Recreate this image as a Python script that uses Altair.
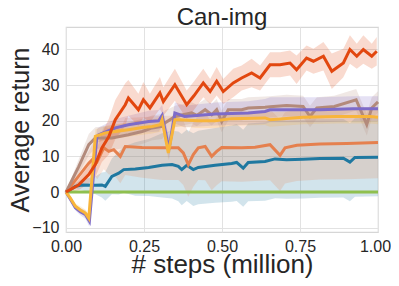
import altair as alt
import pandas as pd

# ---- data ----
title_text = "Can-img"
names = ["green", "blue", "orange", "brown", "purple", "yellow", "red"]
colors = ["#8fc04f", "#1f78a0", "#e5804e", "#b38a7b", "#7d6bc9", "#f8b53a", "#e2470f"]

green_x = [0, 0.25, 0.5, 0.75, 1.0]
green_y = [0, 0, 0, 0, 0]
green_hw = [0.3, 0.3, 0.3, 0.3, 0.3]

blue_x = [0, 0.03, 0.051, 0.094, 0.115, 0.126, 0.147, 0.169, 0.185, 0.222, 0.265, 0.308, 0.34, 0.36, 0.371,
          0.387, 0.408, 0.424, 0.478, 0.531, 0.547, 0.568, 0.584, 0.638, 0.67, 0.707, 0.76, 0.814, 0.889, 0.91,
          0.926, 1.0]
blue_y = [0, 1.6, 2.0, 1.9, 2.0, 1.6, 4.4, 5.3, 6.3, 6.5, 6.9, 7.5, 7.7, 7.2, 6.3, 7.5, 6.3, 6.9, 7.5, 8.0,
          8.3, 6.7, 8.3, 8.6, 9.3, 9.1, 9.2, 9.4, 9.5, 8.4, 9.7, 9.8]
blue_hw = [0, 0.8, 1.5, 2.5, 3.5, 4, 5, 6, 6.5, 7.5, 8, 9, 9.5, 9.8, 10, 10, 10.2, 10.3, 10.5, 10.7, 10.8,
           10.8, 10.9, 11, 11, 11, 11, 11, 11, 11, 11, 11]

orange_x = [0, 0.04, 0.073, 0.089, 0.1, 0.121, 0.137, 0.153, 0.174, 0.19, 0.244, 0.308, 0.36, 0.376, 0.392,
            0.408, 0.424, 0.446, 0.467, 0.483, 0.499, 0.563, 0.606, 0.654, 0.686, 0.702, 0.74, 0.814, 0.9, 1.0]
orange_y = [0, 4.4, 8.1, 9.5, 8.6, 12.4, 11.4, 11.9, 10.0, 12.8, 12.5, 12.4, 12.4, 11.0, 7.7, 10.5, 12.4,
            12.8, 10.0, 11.4, 12.5, 12.4, 12.6, 13.3, 10.3, 12.4, 13.1, 13.5, 13.6, 13.9]
orange_hw = [0, 2, 3.5, 4.5, 5, 6, 6.5, 7, 7.5, 8, 8.5, 9, 9, 9, 9, 9, 9, 9.5, 9.5, 9.5, 9.5, 9.5, 9.5, 10,
             10, 10, 10, 10, 10, 10]

brown_x = [0, 0.04, 0.073, 0.094, 0.147, 0.2, 0.244, 0.276, 0.308, 0.317, 0.35, 0.403, 0.419, 0.446, 0.467,
           0.483, 0.499, 0.52, 0.563, 0.584, 0.638, 0.654, 0.707, 0.76, 0.782, 0.804, 0.86, 0.93, 0.964, 0.98,
           1.0]
brown_y = [0, 7, 13.3, 15.2, 15.2, 16.1, 17, 18, 18.4, 19.4, 21.2, 22.2, 21.5, 23.1, 21.7, 23.1, 19.8, 23.1,
           23.1, 23.6, 23.8, 23.9, 24.3, 24.0, 21.2, 23.6, 24, 25.9, 18.9, 23.6, 25.3]
brown_hw = [0, 2, 3, 3, 3.5, 3.5, 3.5, 3.5, 3.5, 3.5, 3, 3, 3, 3, 3, 3, 3, 3, 3, 3, 3, 3, 3, 3, 3, 3, 3, 3,
            3, 3, 3]

purple_x = [0, 0.014, 0.03, 0.046, 0.062, 0.075, 0.099, 0.105, 0.158, 0.2, 0.265, 0.297, 0.308, 0.33, 0.349,
            0.38, 0.478, 0.584, 0.638, 0.654, 0.814, 0.92, 1.0]
purple_y = [0, -2, -4.4, -5.5, -6.3, -8.2, 15.6, 16.1, 18, 18.9, 19.8, 20, 21.5, 12, 22.2, 21.2, 21.9, 22.2,
            22.6, 23.1, 23.1, 23.4, 23.4]
purple_hw = [0, 0.5, 0.8, 1, 1.2, 1.5, 2, 2, 2.5, 2.5, 3, 3, 3, 3, 3, 3, 3.2, 3.3, 3.5, 3.5, 3.5, 3.5, 3.5]

yellow_x = [0, 0.014, 0.03, 0.046, 0.062, 0.073, 0.094, 0.126, 0.158, 0.2, 0.244, 0.276, 0.302, 0.308, 0.328,
            0.349, 0.36, 0.424, 0.478, 0.531, 0.638, 0.654, 0.76, 0.868, 0.974, 1.0]
yellow_y = [0, -1.7, -4, -5, -5.9, -7.3, 15.6, 16.6, 17.0, 17.5, 18.1, 18.4, 18.9, 20.3, 11, 20.3, 20.3, 20,
            20, 20.6, 20.8, 20.3, 21, 21.2, 21.2, 21]
yellow_hw = [0, 0.5, 0.8, 1, 1, 1.2, 2, 2, 2, 2, 2, 2, 2, 2, 2, 2, 2, 2, 2, 2, 2, 2, 2, 2, 2, 2]

red_x = [0, 0.04, 0.073, 0.094, 0.115, 0.137, 0.158, 0.19, 0.2, 0.232, 0.248, 0.269, 0.301, 0.312, 0.349,
         0.387, 0.41, 0.44, 0.462, 0.483, 0.504, 0.536, 0.563, 0.595, 0.622, 0.654, 0.686, 0.718, 0.739, 0.771,
         0.793, 0.825, 0.852, 0.889, 0.91, 0.932, 0.953, 0.98, 0.996]
red_y = [0, 2, 4.9, 7.7, 12.4, 15.5, 20.3, 24.5, 26.4, 23.1, 25.9, 23.6, 27.8, 25.4, 30.1, 24.5, 27, 30.6,
         28.2, 31.1, 28.2, 30.6, 32, 33.4, 32, 35.7, 35.7, 36.2, 34.3, 37.6, 36.7, 38.1, 33.9, 36.2, 40, 38.1,
         40, 38.1, 39.5]
red_hw = [0.5, 1.5, 2.5, 3.5, 4, 5, 5.5, 6, 5, 4.5, 5, 4, 4.5, 4, 4.5, 4, 4, 4, 3.5, 4, 3.5, 4, 3.5, 4, 3.5,
          3.5, 3.5, 3.5, 4, 3.5, 3.5, 4, 5, 4, 4, 3.5, 4, 3.5, 4]

x_ticks = [0, 0.25, 0.5, 0.75, 1.0]
y_ticks = [-10, 0, 10, 20, 30, 40]

series = {
    "green": (green_x, green_y, green_hw),
    "blue": (blue_x, blue_y, blue_hw),
    "orange": (orange_x, orange_y, orange_hw),
    "brown": (brown_x, brown_y, brown_hw),
    "purple": (purple_x, purple_y, purple_hw),
    "yellow": (yellow_x, yellow_y, yellow_hw),
    "red": (red_x, red_y, red_hw),
}

rows = []
for name in names:
    xs, ys, hws = series[name]
    for xv, yv, hv in zip(xs, ys, hws):
        rows.append({"series": name, "x": xv, "y": yv, "lo": yv - hv, "hi": yv + hv})
df = pd.DataFrame(rows)

FONT = "Liberation Sans"
color_scale = alt.Scale(domain=names, range=colors)
xscale = alt.Scale(domain=[0, 1], nice=False)
yscale = alt.Scale(domain=[-11.2, 46.3], nice=False, zero=False)

xenc = alt.X("x:Q", scale=xscale,
             axis=alt.Axis(values=x_ticks, format=".2f", title="# steps (million)", labelFlush=False,
                           labelOffset={"condition": {"test": "datum.value === 1", "value": -3}, "value": 0},
                           titleX=156, titleY=40, titleBaseline="alphabetic", titleFontSize=26,
                           labelPadding=6))
yenc = alt.Y("lo:Q", scale=yscale,
             axis=alt.Axis(values=y_ticks, title="Average return", titleX=-33, titleY=102.5,
                           titleBaseline="bottom", labelPadding=7, labelFlush=False, titleFontSize=25))

base = alt.Chart(df)
bands = base.mark_area(opacity=0.2, interpolate="linear").encode(
    x=xenc, y=yenc, y2="hi:Q",
    color=alt.Color("series:N", scale=color_scale, legend=None),
)

layers = [bands]
for name in names:
    layers.append(
        base.transform_filter(alt.datum.series == name).mark_line(strokeWidth=3).encode(
            x=alt.X("x:Q", scale=xscale),
            y=alt.Y("y:Q", scale=yscale),
            color=alt.Color("series:N", scale=color_scale, legend=None),
        )
    )

title_mark = alt.Chart(pd.DataFrame({"t": [title_text]})).mark_text(
    font=FONT, fontSize=24, color="#262626", align="center", baseline="alphabetic"
).encode(x=alt.value(156), y=alt.value(-2), text="t:N")
layers.append(title_mark)

chart = alt.layer(*layers).properties(
    width=312, height=205,
    autosize=alt.AutoSizeParams(type="none"),
    padding={"left": 58, "top": 19, "right": 13, "bottom": 46},
).configure_view(stroke="#d6d6d6", strokeWidth=1.2).configure_axis(
    grid=True, gridColor="#e2e2e2", gridWidth=1, domain=False, ticks=False,
    labelFont=FONT, labelFontSize=16, labelColor="#262626",
    titleFont=FONT, titleColor="#262626", titleFontWeight="normal",
)

chart.save("out.html", embed_options={"renderer": "svg", "actions": False})
